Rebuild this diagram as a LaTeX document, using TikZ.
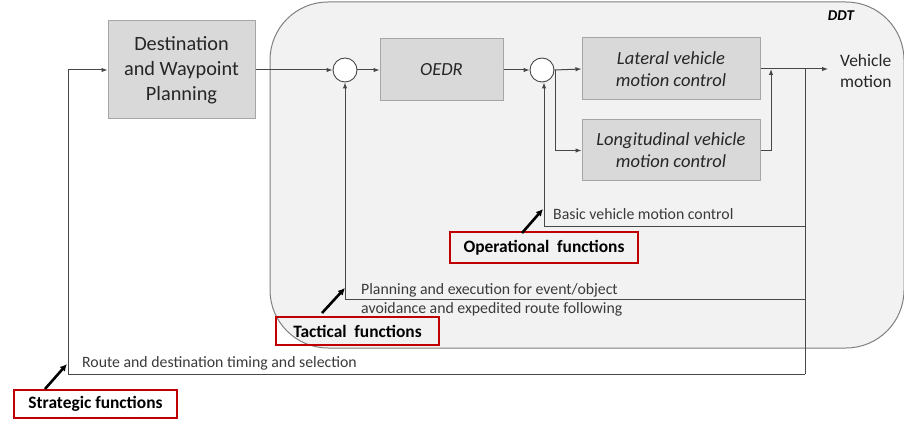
\documentclass[tikz,border=0pt]{standalone}
\usepackage{fontspec}
\setmainfont{Carlito}
\usetikzlibrary{arrows.meta}
\definecolor{boxfill}{HTML}{D9D9D9}
\definecolor{boxline}{HTML}{A6A6A6}
\definecolor{ddtfill}{HTML}{F2F2F2}
\definecolor{ddtline}{HTML}{7F7F7F}
\definecolor{wire}{HTML}{474747}
\definecolor{txt}{HTML}{262626}
\definecolor{lbl}{HTML}{3A3A3A}
\definecolor{redframe}{HTML}{C00000}
\tikzset{
  block/.style={draw=boxline, fill=boxfill, line width=1pt, inner sep=0pt,
    align=center, text=txt},
  sumnode/.style={circle, draw=wire, fill=white, line width=0.9pt,
    minimum size=24pt, inner sep=0pt},
  wireline/.style={draw=wire, line width=1pt},
  flow/.style={wireline, -{Latex[length=6pt,width=4.5pt]}},
  funcbox/.style={draw=redframe, line width=2.6pt, inner sep=0pt, text=black,
    font=\fontsize{17.4}{19}\selectfont\bfseries},
  pointer/.style={draw=black, line width=2.6pt, -{Latex[length=7pt,width=7pt]}},
  looptext/.style={anchor=base west, text=lbl, inner sep=0pt,
    font=\fontsize{15.8}{18}\selectfont},
}
\begin{document}
\begin{tikzpicture}[x=1pt, y=-1pt]
\useasboundingbox (0,0) rectangle (904,422);

% dynamic driving task region
\draw[draw=ddtline, fill=ddtfill, line width=1pt, rounded corners=58pt]
  (270,2) rectangle (904,348);
\node[font=\fontsize{15}{18}\selectfont\bfseries\itshape, text=black] (ddt) at (841,16) {DDT};

% blocks
\node[block, minimum width=147pt, minimum height=98pt,
  font=\fontsize{20.3}{25}\selectfont] (dest) at (181.5,70)
  {Destination\\and Waypoint\\Planning};
\node[sumnode] (s1) at (345,70) {};
\node[block, minimum width=123pt, minimum height=62pt,
  font=\fontsize{18.5}{22}\selectfont\itshape] (oedr) at (441.5,70) {OEDR};
\node[sumnode] (s2) at (542,70) {};
\node[block, minimum width=178pt, minimum height=62pt,
  font=\fontsize{18.5}{22}\selectfont\itshape] (lat) at (671,69)
  {Lateral vehicle\\motion control};
\node[block, minimum width=178pt, minimum height=61pt,
  font=\fontsize{18.5}{22}\selectfont\itshape] (lon) at (671,150.5)
  {Longitudinal vehicle\\motion control};
\node[font=\fontsize{17.5}{21}\selectfont, text=txt, align=left, anchor=west,
  inner sep=0pt] (vm) at (840,71) {Vehicle\\motion};

% forward path
\coordinate (j1) at (771,69);
\coordinate (j2) at (805,69);
\coordinate (out) at (828,69);
\coordinate (split) at (555,70);
\draw[flow] (dest.east) -- (s1.west);
\draw[flow] (s1.east) -- (oedr.west);
\draw[flow] (oedr.east) -- (s2.west);
\draw[flow] (s2.east) -- (lat.west);
\draw[flow] (split) |- (lon.west);
\draw[flow] (lon.east) -| (j1);
\draw[flow] (lat.east) -- (out);

% feedback loops
\coordinate (fbr1) at (805,226);
\coordinate (fbl1) at (544,226);
\coordinate (fbr2) at (805,299);
\coordinate (fbl2) at (345,299);
\coordinate (fbr3) at (805,374);
\coordinate (fbl3) at (68,374);
\coordinate (fbt3) at (68,70);
\draw[wireline] (j2) -- (fbr3);
\draw[flow] (fbr1) -- (fbl1) -- (fbl1 |- s2.south);
\draw[flow] (fbr2) -- (fbl2) -- (s1.south);
\draw[flow] (fbr3) -- (fbl3) -- (fbt3) -- (dest.west);

% loop labels
\node[looptext] (op) at (553,219) {Basic vehicle motion control};
\node[looptext] (tac1) at (361,294) {Planning and execution for event/object};
\node[looptext] (tac2) at (361,313) {avoidance and expedited route following};
\node[looptext] (str) at (82,367) {Route and destination timing and selection};

% function levels
\node[funcbox, minimum width=188pt, minimum height=31pt] (opf) at (544,247.5)
  {Operational\hspace{0.45em}functions};
\node[funcbox, minimum width=163pt, minimum height=28pt] (tacf) at (357.5,331)
  {Tactical\hspace{0.45em}functions};
\node[funcbox, minimum width=163pt, minimum height=28pt] (strf) at (95.5,404)
  {Strategic functions};

\coordinate (p1a) at (522,233);
\coordinate (p1b) at (543,209);
\coordinate (p2a) at (322,313);
\coordinate (p2b) at (345,288);
\coordinate (p3a) at (45,389);
\coordinate (p3b) at (67,364);
\draw[pointer] (p1a) -- (p1b);
\draw[pointer] (p2a) -- (p2b);
\draw[pointer] (p3a) -- (p3b);
\end{tikzpicture}
\end{document}
